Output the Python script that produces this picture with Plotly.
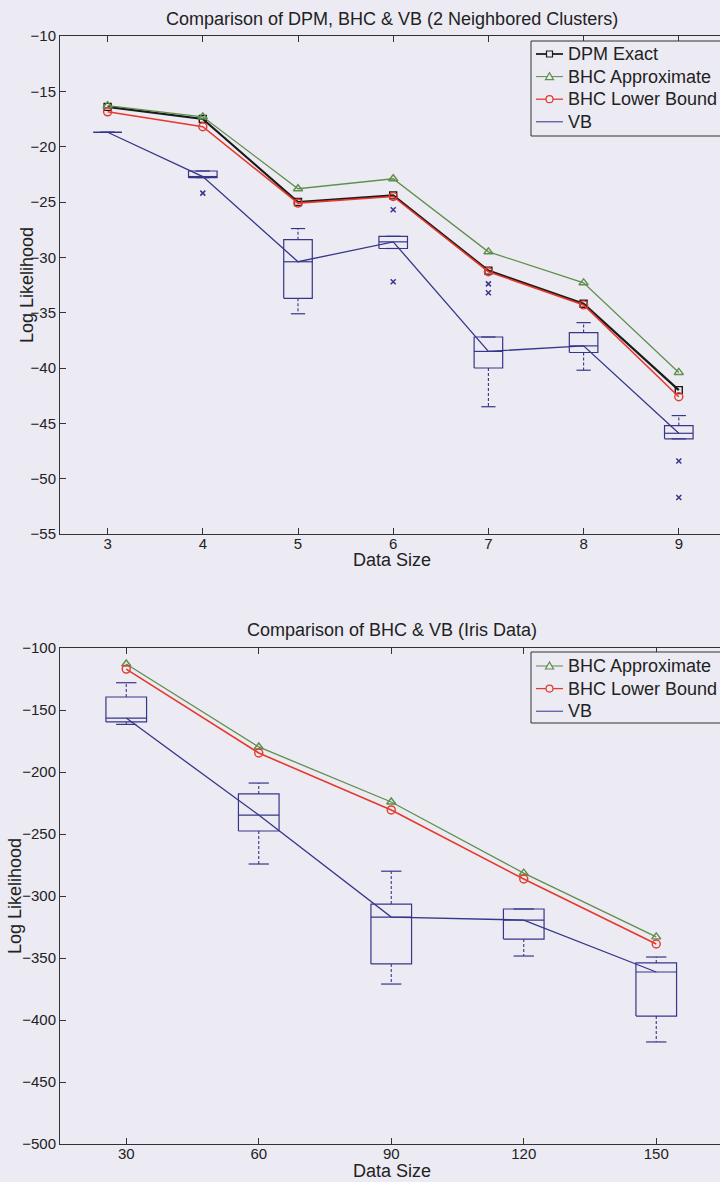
import plotly.graph_objects as go

# ---- Top panel: 2 neighbored clusters ----
sizes_top = [3, 4, 5, 6, 7, 8, 9]
dpm_exact = [-16.4, -17.5, -25.0, -24.4, -31.2, -34.2, -42.0]
bhc_approx_top = [-16.3, -17.3, -23.8, -22.9, -29.5, -32.3, -40.4]
bhc_lower_top = [-16.85, -18.2, -25.1, -24.5, -31.3, -34.3, -42.6]

vb_q1_top = [-18.7, -22.8, -33.7, -29.2, -40.0, -38.6, -46.4]
vb_med_top = [-18.7, -22.7, -30.4, -28.6, -38.5, -38.0, -45.9]
vb_q3_top = [-18.7, -22.2, -28.4, -28.1, -37.2, -36.8, -45.2]
vb_lo_top = [-18.7, -22.8, -35.1, -29.2, -43.5, -40.2, -46.4]
vb_hi_top = [-18.7, -22.2, -27.4, -28.1, -37.2, -35.9, -44.3]
vb_out_x_top = [4, 6, 6, 7, 7, 9, 9]
vb_out_y_top = [-24.2, -25.7, -32.2, -32.4, -33.2, -48.4, -51.7]

# ---- Bottom panel: Iris data ----
sizes_bot = [30, 60, 90, 120, 150]
bhc_approx_bot = [-112.9, -179.8, -224.2, -281.5, -333.0]
bhc_lower_bot = [-117.0, -184.7, -230.6, -286.3, -338.7]

vb_q1_bot = [-159.6, -247.6, -354.8, -334.7, -396.8]
vb_med_bot = [-156.5, -234.7, -317.0, -319.4, -361.3]
vb_q3_bot = [-139.5, -217.7, -306.5, -310.5, -354.0]
vb_lo_bot = [-161.6, -274.2, -371.0, -348.4, -417.7]
vb_hi_bot = [-128.0, -208.9, -280.0, -310.5, -349.2]

legend_top = ["DPM Exact", "BHC Approximate", "BHC Lower Bound", "VB"]
legend_bot = ["BHC Approximate", "BHC Lower Bound", "VB"]

FONT = "Liberation Sans, Arial, sans-serif"
BG = "#ECEBF3"
INK = "#222222"
BLACK = "#1a1a1a"
GREEN = "#5f8f4c"
RED = "#e6392c"
NAVY = "#36368a"

W, H = 720, 1182
ML = 60

# line / marker style per series name
STYLE = {
    "DPM Exact": dict(color=BLACK, width=2.2, symbol="square"),
    "BHC Approximate": dict(color=GREEN, width=1.3, symbol="triangle"),
    "BHC Lower Bound": dict(color=RED, width=1.6, symbol="circle"),
    "VB": dict(color=NAVY, width=1.3, symbol=None),
}
PLOTLY_SYMBOL = {"square": "square-open", "triangle": "triangle-up-open", "circle": "circle-open"}

fig = go.Figure()


def series(x, y, name, xa, ya):
    s = STYLE[name]
    mode = "lines+markers" if s["symbol"] else "lines"
    marker = dict(symbol=PLOTLY_SYMBOL[s["symbol"]], size=8 if s["symbol"] != "square" else 7,
                  color=s["color"], line=dict(width=1.4)) if s["symbol"] else None
    return go.Scatter(x=x, y=y, name=name, mode=mode, showlegend=False,
                      line=dict(color=s["color"], width=s["width"]), marker=marker,
                      xaxis=xa, yaxis=ya)


def box_traces(xs, q1, med, q3, lo, hi, half_box, half_cap, xa, ya):
    """Matlab-style box plots drawn as line paths in data coordinates."""
    bx, by, mx, my, wx, wy, cx, cy = [], [], [], [], [], [], [], []
    for x, a, m, b, l, h in zip(xs, q1, med, q3, lo, hi):
        bx += [x - half_box, x + half_box, x + half_box, x - half_box, x - half_box, None]
        by += [a, a, b, b, a, None]
        mx += [x - half_box, x + half_box, None]
        my += [m, m, None]
        if h > b:
            wx += [x, x, None]
            wy += [b, h, None]
        if l < a:
            wx += [x, x, None]
            wy += [a, l, None]
        cx += [x - half_cap, x + half_cap, None, x - half_cap, x + half_cap, None]
        cy += [h, h, None, l, l, None]
    common = dict(mode="lines", showlegend=False, hoverinfo="skip", xaxis=xa, yaxis=ya)
    return [
        go.Scatter(x=bx, y=by, line=dict(color=NAVY, width=1.2), **common),
        go.Scatter(x=mx, y=my, line=dict(color=NAVY, width=1.2), **common),
        go.Scatter(x=wx, y=wy, line=dict(color=NAVY, width=1.1, dash="3px,2px"), **common),
        go.Scatter(x=cx, y=cy, line=dict(color=NAVY, width=1.2), **common),
    ]


# Top panel traces
fig.add_trace(series(sizes_top, dpm_exact, "DPM Exact", "x", "y"))
fig.add_trace(series(sizes_top, bhc_approx_top, "BHC Approximate", "x", "y"))
fig.add_trace(series(sizes_top, bhc_lower_top, "BHC Lower Bound", "x", "y"))
fig.add_trace(series(sizes_top, vb_med_top, "VB", "x", "y"))
for t in box_traces(sizes_top, vb_q1_top, vb_med_top, vb_q3_top, vb_lo_top, vb_hi_top,
                    0.15, 0.075, "x", "y"):
    fig.add_trace(t)
fig.add_trace(go.Scatter(x=vb_out_x_top, y=vb_out_y_top, mode="markers", showlegend=False,
                         marker=dict(symbol="x-thin-open", size=5, color=NAVY,
                                     line=dict(width=1.5, color=NAVY)),
                         xaxis="x", yaxis="y"))

# Bottom panel traces
fig.add_trace(series(sizes_bot, bhc_approx_bot, "BHC Approximate", "x2", "y2"))
fig.add_trace(series(sizes_bot, bhc_lower_bot, "BHC Lower Bound", "x2", "y2"))
fig.add_trace(series(sizes_bot, vb_med_bot, "VB", "x2", "y2"))
for t in box_traces(sizes_bot, vb_q1_bot, vb_med_bot, vb_q3_bot, vb_lo_bot, vb_hi_bot,
                    4.6, 2.3, "x2", "y2"):
    fig.add_trace(t)


def py(p):
    """Pixel row -> paper y."""
    return 1 - p / H


def px(p):
    """Pixel column -> paper x."""
    return (p - ML) / (W - ML)


axis_common = dict(showline=True, linecolor="#333333", linewidth=1, ticks="inside",
                   ticklen=6, tickcolor="#333333", showgrid=False, zeroline=False,
                   automargin=False,
                   tickfont=dict(family=FONT, size=15, color=INK))

# Top: x from 2.5 at px 60, 95.2 px per unit; bottom: 15 at px 60, 132.5 px per 30
top_xmax = 2.5 + (W - ML) / 95.2
bot_xmax = 15 + (W - ML) / 132.5 * 30

fig.update_layout(
    width=W, height=H,
    margin=dict(l=ML, r=0, t=0, b=0, autoexpand=False),
    paper_bgcolor=BG, plot_bgcolor=BG,
    font=dict(family=FONT, color=INK),
    showlegend=False,
    xaxis=dict(domain=[0, 1], range=[2.5, top_xmax], tickvals=sizes_top, mirror="ticks",
               anchor="y", ticklabelstandoff=-4, **axis_common),
    yaxis=dict(domain=[py(534), py(36)], range=[-55, -10], dtick=5,
               anchor="x", **axis_common),
    xaxis2=dict(domain=[0, 1], range=[15, bot_xmax], tickvals=sizes_bot, mirror="ticks",
                anchor="y2", ticklabelstandoff=-4, **axis_common),
    yaxis2=dict(domain=[py(1144), py(648)], range=[-500, -100], dtick=50,
                anchor="x2", **axis_common),
)

annotations = [
    dict(text="Comparison of DPM, BHC & VB (2 Neighbored Clusters)", x=px(392), y=py(19)),
    dict(text="Comparison of BHC & VB (Iris Data)", x=px(392), y=py(630)),
    dict(text="Data Size", x=px(392), y=py(560)),
    dict(text="Data Size", x=px(392), y=py(1171)),
    dict(text="Log Likelihood", x=px(27), y=py(285), textangle=-90),
    dict(text="Log Likelihood", x=px(15), y=py(896), textangle=-90),
]
shapes = []


def add_legend(names, top, bottom, first_row, row_step):
    """Boxed legend: line sample with marker, then the series name."""
    shapes.append(dict(type="rect", xref="paper", yref="paper", x0=px(531), x1=px(728),
                       y0=py(bottom), y1=py(top), fillcolor=BG,
                       line=dict(color="#333333", width=1), layer="above"))
    for i, name in enumerate(names):
        s = STYLE[name]
        yc = first_row + i * row_step
        shapes.append(dict(type="line", xref="paper", yref="paper", x0=px(536), x1=px(563),
                           y0=py(yc), y1=py(yc), line=dict(color=s["color"], width=s["width"] * 0.8),
                           layer="above"))
        xc = 549.5
        mk = dict(xref="paper", yref="paper", fillcolor=BG, layer="above",
                  line=dict(color=s["color"], width=1.2))
        if s["symbol"] == "square":
            shapes.append(dict(type="rect", x0=px(xc - 3), x1=px(xc + 3),
                               y0=py(yc + 3), y1=py(yc - 3), **mk))
        elif s["symbol"] == "circle":
            shapes.append(dict(type="circle", x0=px(xc - 3.5), x1=px(xc + 3.5),
                               y0=py(yc + 3.5), y1=py(yc - 3.5), **mk))
        elif s["symbol"] == "triangle":
            path = "M {a},{b} L {c},{b} L {d},{e} Z".format(
                a=px(xc - 4), c=px(xc + 4), b=py(yc + 3), d=px(xc), e=py(yc - 4))
            shapes.append(dict(type="path", path=path, **mk))
        annotations.append(dict(text=name, x=px(566), y=py(yc), xanchor="left"))


add_legend(legend_top, 41, 136, 54, 22.6)
add_legend(legend_bot, 652, 723, 666, 22.6)

for a in annotations:
    a.setdefault("xanchor", "center")
    a.update(xref="paper", yref="paper", showarrow=False, yanchor="middle",
             font=dict(family=FONT, size=18, color=INK))
fig.update_layout(annotations=annotations, shapes=shapes)

# Page body without default margin so the figure fills the window exactly
fig.write_html("out.html",
               post_script="document.body.style.margin='0';document.body.style.overflow='hidden';")
